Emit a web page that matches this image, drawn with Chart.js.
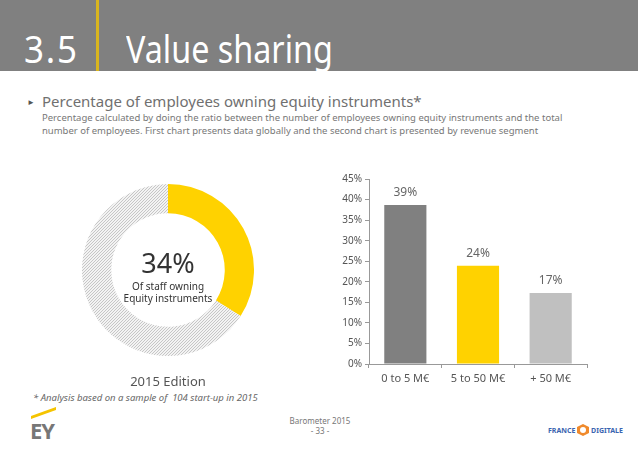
<!DOCTYPE html>
<html>
<head>
<meta charset="utf-8">
<script src="https://cdn.jsdelivr.net/npm/chart.js@4.4.1/dist/chart.umd.min.js"></script>
<style>
  html, body { margin: 0; padding: 0; background: #fff; }
  body { width: 638px; height: 452px; position: relative; overflow: hidden; font-family: "Noto Sans", sans-serif; color: #666; }
  .abs { position: absolute; white-space: nowrap; }
  #header { left: 0; top: 0; width: 638px; height: 71px; background: #808080; }
  #bar { left: 96px; top: 0; width: 3px; height: 71px; background: #d9b51e; }
  #num { left: 24px; top: 22px; font-size: 38px; color: #fff; letter-spacing: 2px; transform: scaleX(0.92); transform-origin: left; }
  #ttl { left: 126px; top: 22px; font-size: 38px; color: #fff; transform: scaleX(0.85); transform-origin: left; }
  #bullet { left: 27px; top: 96px; font-size: 8px; color: #555; }
  #h2 { left: 42px; top: 91px; font-size: 15px; color: #707070; }
  #sub { left: 42px; top: 111px; font-size: 9.5px; line-height: 13px; color: #777; }
  #donutWrap { left: 82px; top: 184px; width: 172px; height: 172px; }
  #center1 { left: 118px; top: 244px; width: 100px; text-align: center; font-size: 27px; color: #333; }
  #center2 { left: 108px; top: 280px; width: 120px; text-align: center; font-size: 10px; line-height: 12px; color: #333; }
  #edition { left: 118px; top: 372px; width: 100px; text-align: center; font-size: 13px; color: #555; }
  #barWrap { left: 330px; top: 170px; width: 262px; height: 220px; }
  #note { left: 33px; top: 391px; font-size: 9.5px; font-style: italic; color: #666; }
  #baro { left: 280px; top: 416px; width: 80px; text-align: center; font-size: 8px; line-height: 10px; color: #777; }
  #ey { left: 30px; top: 415px; font-size: 22px; font-weight: bold; color: #777; letter-spacing: -1px; }
  #fd { left: 548px; top: 424px; font-size: 7px; font-weight: bold; color: #3a64b0; }
</style>
</head>
<body>
<div class="abs" id="header"></div>
<div class="abs" id="bar"></div>
<div class="abs" id="num">3.5</div>
<div class="abs" id="ttl">Value sharing</div>
<div class="abs" id="bullet">&#9658;</div>
<div class="abs" id="h2">Percentage of employees owning equity instruments*</div>
<div class="abs" id="sub">Percentage calculated by doing the ratio between the number of employees owning equity instruments and the total<br>number of employees. First chart presents data globally and the second chart is presented by revenue segment</div>
<div class="abs" id="donutWrap"><canvas id="donut"></canvas></div>
<div class="abs" id="center1">34%</div>
<div class="abs" id="center2">Of staff owning<br>Equity instruments</div>
<div class="abs" id="edition">2015 Edition</div>
<div class="abs" id="barWrap"><canvas id="bars"></canvas></div>
<div class="abs" id="note">* Analysis based on a sample of &nbsp;104 start-up in 2015</div>
<svg class="abs" style="left:31px;top:407px" width="26" height="12"><polygon points="0,9 25,0 25,3 0,12" fill="#f5c400"/></svg>
<div class="abs" id="ey">EY</div>
<div class="abs" id="baro">Barometer 2015<br>- 33 -</div>
<div class="abs" id="fd">FRANCE <svg width="12" height="12" style="vertical-align:-3px"><polygon points="6,0 12,3 12,9 6,12 0,9 0,3" fill="#f08a2c"/><circle cx="6" cy="6" r="3" fill="#fff"/></svg> DIGITALE</div>

<script>
// donut: share of staff owning equity instruments
const donutLabels = ['Owning', 'Not owning'];
const donutValues = [34, 66];

// bars: by revenue segment
const segments = ['0 to 5 M€', '5 to 50 M€', '+ 50 M€'];
const segmentValues = [38.7, 23.9, 17.3];
const segmentShown = ['39%', '24%', '17%'];
const segmentColors = ['#808080', '#ffd200', '#c0c0c0'];
const yTicks = [0, 5, 10, 15, 20, 25, 30, 35, 40, 45];

// hatched grey fill for the remainder
function hatch() {
  const c = document.createElement('canvas');
  c.width = 3; c.height = 3;
  const g = c.getContext('2d');
  g.fillStyle = '#f3f3f3';
  g.fillRect(0, 0, 3, 3);
  g.strokeStyle = '#c6c6c6';
  g.lineWidth = 1;
  g.beginPath();
  g.moveTo(0, 3); g.lineTo(3, 0);
  g.moveTo(-1, 1); g.lineTo(1, -1);
  g.moveTo(2, 4); g.lineTo(4, 2);
  g.stroke();
  return g.createPattern(c, 'repeat');
}

new Chart(document.getElementById('donut'), {
  type: 'doughnut',
  data: {
    labels: donutLabels,
    datasets: [{
      data: donutValues,
      backgroundColor: ['#ffd200', hatch()],
      borderWidth: 0
    }]
  },
  options: {
    responsive: true,
    maintainAspectRatio: false,
    animation: false,
    cutout: '66%',
    plugins: { legend: { display: false }, tooltip: { enabled: false } }
  }
});

const valueLabels = {
  id: 'valueLabels',
  afterDatasetsDraw(chart) {
    const ctx = chart.ctx;
    ctx.save();
    ctx.font = '12px "Noto Sans"';
    ctx.fillStyle = '#666';
    ctx.textAlign = 'center';
    ctx.textBaseline = 'bottom';
    chart.getDatasetMeta(0).data.forEach((b, i) => {
      ctx.fillText(segmentShown[i], b.x, b.y - 6);
    });
    ctx.restore();
  }
};

new Chart(document.getElementById('bars'), {
  type: 'bar',
  data: {
    labels: segments,
    datasets: [{
      data: segmentValues,
      backgroundColor: segmentColors,
      categoryPercentage: 1,
      barPercentage: 0.58
    }]
  },
  options: {
    responsive: true,
    maintainAspectRatio: false,
    animation: false,
    layout: { padding: { top: 7, right: 5 } },
    plugins: { legend: { display: false }, tooltip: { enabled: false } },
    scales: {
      x: {
        grid: { drawOnChartArea: false, tickLength: 4, color: '#999', offset: true },
        border: { color: '#999' },
        ticks: { color: '#555', font: { size: 11, family: 'Noto Sans' }, padding: 4 },
        afterFit(s) { s.height = 26; }
      },
      y: {
        min: 0, max: 45,
        afterBuildTicks(s) { s.ticks = yTicks.map(v => ({ value: v })); },
        grid: { drawOnChartArea: false, tickLength: 4, color: '#999' },
        border: { color: '#999' },
        ticks: { color: '#555', font: { size: 10, family: 'Noto Sans' }, padding: 3, callback: v => v + '%' },
        afterFit(s) { s.width = 39; }
      }
    }
  },
  plugins: [valueLabels]
});
</script>
</body>
</html>
